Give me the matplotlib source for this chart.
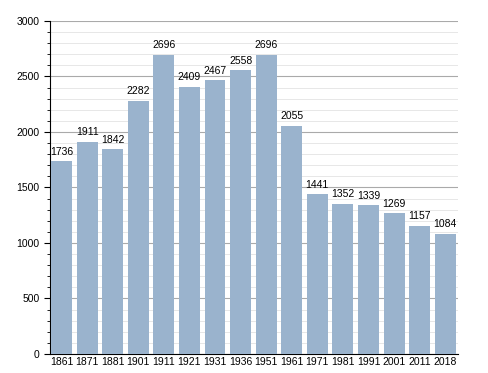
import matplotlib
matplotlib.use("Agg")
import matplotlib.pyplot as plt
from matplotlib.ticker import MultipleLocator

years = ["1861", "1871", "1881", "1901", "1911", "1921", "1931", "1936",
         "1951", "1961", "1971", "1981", "1991", "2001", "2011", "2018"]
population = [1736, 1911, 1842, 2282, 2696, 2409, 2467, 2558,
              2696, 2055, 1441, 1352, 1339, 1269, 1157, 1084]

plt.rcParams["font.family"] = ["Liberation Sans", "DejaVu Sans"]

fig = plt.figure(figsize=(4.88, 3.73), dpi=100)
ax = fig.add_axes([0.1025, 0.051, 0.836, 0.893])

x = range(len(years))
ax.bar(x, population, width=0.82, color="#9ab3cd", zorder=3)
for i, v in zip(x, population):
    ax.text(i, v + 40, str(v), ha="center", va="bottom", fontsize=7.5, zorder=4)

ax.set_xlim(-0.45, len(years) - 0.5)
ax.set_ylim(0, 3000)
ax.set_xticks(list(x))
ax.set_xticklabels(years, fontsize=7.5)
ax.yaxis.set_major_locator(MultipleLocator(500))
ax.yaxis.set_minor_locator(MultipleLocator(100))
ax.tick_params(axis="y", labelsize=7.5, length=4, direction="out")
ax.tick_params(axis="y", which="minor", length=2)
ax.tick_params(axis="x", length=0, pad=2)
ax.grid(axis="y", which="major", color="#aaaaaa", linewidth=0.8, zorder=0)
ax.grid(axis="y", which="minor", color="#e3e3e3", linewidth=0.6, zorder=0)
for s in ["top", "right"]:
    ax.spines[s].set_visible(False)
ax.spines["left"].set_linewidth(0.8)
ax.spines["bottom"].set_linewidth(0.8)

plt.savefig("out.png", dpi=100)
